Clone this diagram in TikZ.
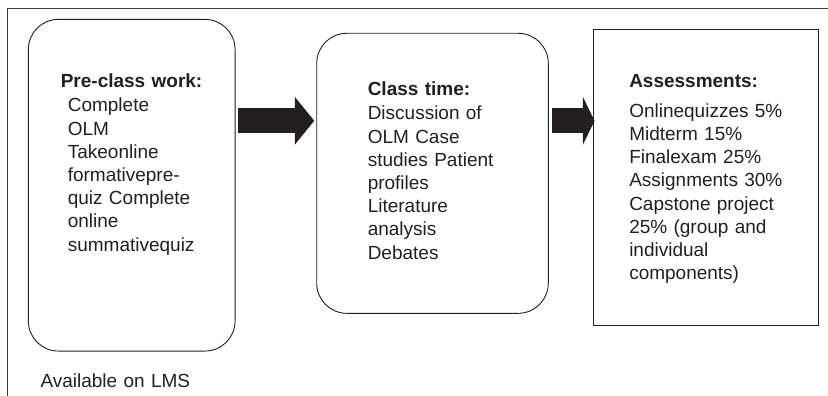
\documentclass[tikz,border=0pt]{standalone}
\usepackage{fontspec}
\setmainfont{Liberation Sans}
\usetikzlibrary{arrows.meta, positioning}
\definecolor{inkDark}{HTML}{231F20}
\definecolor{frameGray}{HTML}{3A3A3A}

\begin{document}
\begin{tikzpicture}[x=1pt, y=-1pt,
    stage/.style={rectangle, draw=inkDark, line width=0.9pt,
                  rounded corners=30pt, inner sep=0pt},
    gradebox/.style={rectangle, draw=inkDark, line width=0.9pt, inner sep=0pt},
    stagetext/.style={anchor=base west, inner sep=0pt, align=left,
                      text width=#1, text=inkDark,
                      font=\fontsize{19}{23.2}\selectfont},
    flow/.style={line width=25pt, inkDark,
                 -{Triangle[length=#1, width=48pt, line width=0pt]}},
  ]
    \useasboundingbox (0,0) rectangle (828,396);
    \draw[frameGray, line width=0.9pt] (7,396) -- (7,8.5) -- (828,8.5);

    \node[stage, minimum width=206.7pt, minimum height=331.7pt]  (pre) at (131.7,185.2) {};
    \node[stage, minimum width=231.6pt, minimum height=280pt]    (cls) at (432.5,173.3) {};
    \node[gradebox, minimum width=225pt, minimum height=295.7pt] (asm) at (705.8,177.2) {};

    \node[stagetext=165pt] (preT) at ([shift={(39.7,68.7)}]pre.north west)
      {\hspace*{-7pt}\textbf{Pre-class work:}\\[1.2pt]
       Complete\\ OLM\\ Takeonline\\ formativepre-\\ quiz Complete\\ online\\ summativequiz};
    \node[stagetext=175pt] (clsT) at ([shift={(51.3,62.7)}]cls.north west)
      {\textbf{Class time:}\\[1.2pt]
       Discussion of\\ OLM Case\\ studies Patient\\ profiles\\ Literature\\ analysis\\ Debates};
    \node[stagetext=180pt] (asmT) at ([shift={(36.2,58.2)}]asm.north west)
      {\textbf{Assessments:}\\[7pt]
       Onlinequizzes 5\%\\ Midterm 15\%\\ Finalexam 25\%\\ Assignments 30\%\\
       Capstone project\\ 25\% (group and\\ individual\\ components)};

    \node[stagetext=200pt] (lms) at ([shift={(12.4,35.7)}]pre.south west) {Available on LMS};

    % block arrows between the stages
    \coordinate (lane) at (0,120.8);
    \draw[flow=19.5pt, shorten <=2.7pt, shorten >=2pt] (pre.east |- lane) -- (cls.west |- lane);
    \draw[flow=11.7pt, shorten <=3.4pt, shorten >=-1.7pt] (cls.east |- lane) -- (asm.west |- lane);
  \end{tikzpicture}
\end{document}
